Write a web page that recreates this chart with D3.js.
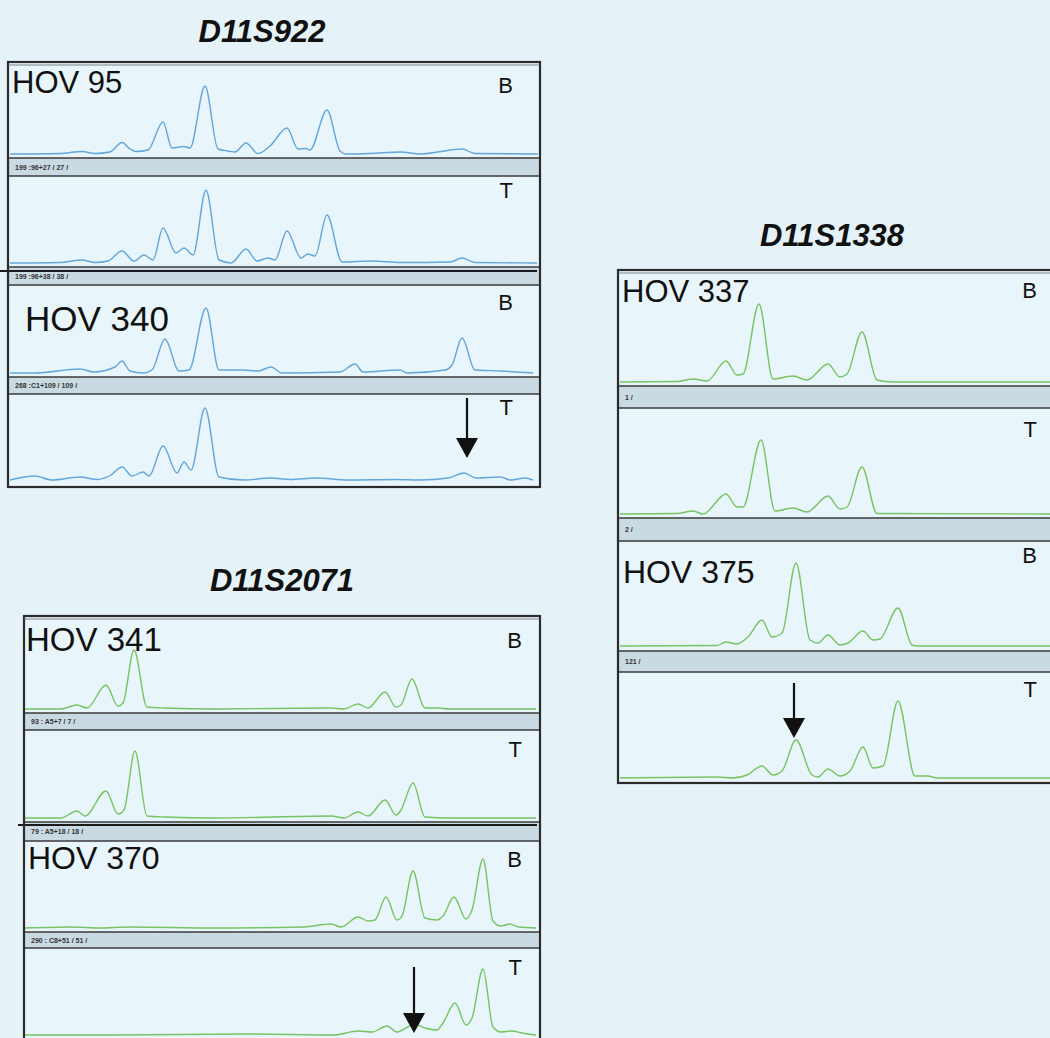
<!DOCTYPE html>
<html>
<head>
<meta charset="utf-8">
<script src="https://cdn.jsdelivr.net/npm/d3@7"></script>
<style>
  html, body { margin: 0; padding: 0; background: #e5f3f8; }
  svg { display: block; font-family: "Liberation Sans", Arial, sans-serif; }
</style>
</head>
<body>
<svg id="fig" width="1050" height="1038"></svg>
<script>
// ---------------------------------------------------------------
// Electropherogram traces: [scan position, signal] pairs per lane.
// B = blood (constitutional) DNA, T = tumour DNA.
// ---------------------------------------------------------------

// Marker D11S922
const hov95B = [[2,0],[52,0.5],[74,2.5],[87,0.5],[102,2],[114,11.5],[122,5],[128,2.5],[140,4],[155,32],[164,6],[176,7.5],[182,6],[197,68],[210,5],[220,3],[227,2],[238,11],[250,0.5],[262,8],[279,26],[290,5],[298,5.5],[302,4],[319,44],[332,3],[338,0],[362,0.5],[393,2],[412,0],[454,5],[467,0.5],[530,0]];
const hov95T = [[2,0],[52,0.5],[74,3],[87,0.5],[100,2],[114,12],[126,2],[136,8],[145,3],[155,35],[168,10],[176,15],[185,8],[198,73],[211,3],[223,0],[238,14],[249,2],[260,5],[267,3],[279,32],[293,5],[300,9],[307,7],[319,48],[334,1],[364,2],[392,0.5],[442,1],[454,5],[467,0.5],[529,0]];
const hov340B = [[2,0],[27,0],[72,4],[86,1],[107,6],[114,12],[122,2],[135,0],[144,3],[157,34],[171,2],[181,3],[198,65],[211,3],[235,3],[250,2],[263,6],[274,0],[332,1],[347,9],[355,1],[392,3],[399,0],[437,3],[444,8],[454,35],[467,3],[492,2],[525,0]];
const hov340T = [[2,0],[27,4],[44,0],[72,3],[89,0.5],[103,5],[114,13],[124,4],[135,8],[141,4],[155,34],[169,7],[176,18],[183,10],[197,72],[211,3],[235,0],[263,2],[282,0.5],[308,2],[340,0],[388,0.5],[412,0],[440,2],[456,7],[468,2],[492,3],[503,0],[517,2],[525,0]];

// Marker D11S1338
const hov337B = [[2,0],[59,0.5],[75,3],[89,1],[108,21],[119,7],[125,8],[141,78],[155,3],[175,6],[189,2],[210,18],[222,5],[229,8],[244,50],[259,2],[275,0],[440,0]];
const hov337T = [[2,0],[59,0.5],[75,3],[85,0],[108,20],[119,7],[125,7],[143,74],[157,3],[175,6],[189,2],[210,18],[222,5],[229,7],[244,47],[259,0.5],[440,0]];
const hov375B = [[2,0],[99,0.5],[108,4],[119,2],[130,9],[144,26],[154,9],[164,13],[178,83],[192,6],[200,3],[210,11],[222,1],[230,3],[245,15],[255,6],[262,7],[280,38],[294,1],[299,0],[440,0]];
const hov375T = [[2,0],[99,1],[115,0],[129,3],[144,12],[155,3],[164,7],[178,38],[194,3],[200,1],[210,9],[222,2],[232,7],[245,31],[255,10],[265,12],[280,77],[297,2],[310,2],[319,0],[440,0]];

// Marker D11S2071
const hov341B = [[1,0],[37,0],[53,4],[63,1],[82,24],[94,3],[99,6],[110,59],[123,2],[140,1],[191,0],[307,1],[320,0],[334,5],[344,1],[361,17],[372,2],[377,4],[388,30],[401,1],[414,1],[426,0],[512,0]];
const hov341T = [[1,0],[37,0],[53,7],[61,2],[82,27],[94,4],[100,8],[111,67],[123,2],[140,1],[191,0],[307,2],[320,0],[334,6],[344,2],[361,18],[372,3],[377,8],[389,35],[401,1],[426,0],[512,0]];
const hov370B = [[1,0],[47,1],[76,0],[105,1],[191,0],[280,1],[307,4],[317,1],[334,11],[344,7],[351,8],[362,31],[373,8],[378,12],[389,57],[401,10],[413,8],[419,12],[430,31],[442,9],[448,18],[459,69],[469,7],[477,2],[486,4],[495,1],[512,0]];
const hov370T = [[1,0],[88,0],[225,1],[310,0],[334,4],[348,3],[363,9],[373,3],[382,7],[390,11],[401,7],[413,5],[419,12],[431,32],[442,10],[448,17],[459,66],[469,8],[477,3],[488,4],[498,2],[512,0]];

// Marker names, sample names and the run-info strings printed under each lane
const markerNames = ["D11S922", "D11S1338", "D11S2071"];
const sampleNames = [["HOV 95", "HOV 340"], ["HOV 337", "HOV 375"], ["HOV 341", "HOV 370"]];
const runInfo = [
  ["199 :96+27 / 27 /", "199 :96+38 / 38 /", "268 :C1+109 / 109 /"],
  ["1 /", "2 /", "121 /"],
  ["93 : A5+7 / 7 /", "79 : A5+18 / 18 /", "290 : C8+51 / 51 /"]
];
// Allelic loss markers: [scan position, arrow top signal, arrow tip signal]
const lossArrows = [[459, 82, 22], [176, 95, 40], [390, 68, 2]];

// ---------------------------------------------------------------
const BLUE = "#62a6da", GREEN = "#76c462";
const BORDER = "#2b2b2b", STRIP = "#c9dae3";

const panels = [
  {
    title: markerNames[0], titleX: 262, titleY: 42, color: BLUE,
    box: {x0: 8, x1: 540, y0: 62, y1: 487}, scanMax: 532, laneRight: 513,
    samples: [
      {name: sampleNames[0][0], nx: 12, ny: 93, fs: 31,
       lanes: [{lane: "B", base: 154, ly: 93, data: hov95B}, {lane: "T", base: 263, ly: 198, data: hov95T}]},
      {name: sampleNames[0][1], nx: 25, ny: 331, fs: 35,
       lanes: [{lane: "B", base: 373, ly: 310, data: hov340B}, {lane: "T", base: 480, ly: 415, data: hov340T, arrow: lossArrows[0]}]}
    ],
    strips: [{y0: 158, y1: 176, text: runInfo[0][0]}, {y0: 267, y1: 285, text: runInfo[0][1], rule: {y: 271, x0: 0, x1: 537}}, {y0: 377, y1: 394, text: runInfo[0][2]}]
  },
  {
    title: markerNames[1], titleX: 832, titleY: 246, color: GREEN,
    box: {x0: 618, x1: 1060, y0: 270, y1: 783}, scanMax: 440, laneRight: 1037,
    samples: [
      {name: sampleNames[1][0], nx: 622, ny: 302, fs: 31,
       lanes: [{lane: "B", base: 382, ly: 298, data: hov337B}, {lane: "T", base: 514, ly: 437, data: hov337T}]},
      {name: sampleNames[1][1], nx: 623, ny: 583, fs: 32,
       lanes: [{lane: "B", base: 646, ly: 563, data: hov375B}, {lane: "T", base: 778, ly: 697, data: hov375T, arrow: lossArrows[1]}]}
    ],
    strips: [{y0: 386, y1: 408, text: runInfo[1][0]}, {y0: 518, y1: 541, text: runInfo[1][1]}, {y0: 651, y1: 672, text: runInfo[1][2]}]
  },
  {
    title: markerNames[2], titleX: 282, titleY: 591, color: GREEN,
    box: {x0: 24, x1: 540, y0: 616, y1: 1044}, scanMax: 516, laneRight: 522,
    samples: [
      {name: sampleNames[2][0], nx: 26, ny: 651, fs: 33,
       lanes: [{lane: "B", base: 709, ly: 648, data: hov341B}, {lane: "T", base: 818, ly: 757, data: hov341T}]},
      {name: sampleNames[2][1], nx: 28, ny: 869, fs: 32,
       lanes: [{lane: "B", base: 928, ly: 867, data: hov370B}, {lane: "T", base: 1035, ly: 975, data: hov370T, arrow: lossArrows[2]}]}
    ],
    strips: [{y0: 713, y1: 730, text: runInfo[2][0]}, {y0: 822, y1: 841, text: runInfo[2][1], rule: {y: 825, x0: 18, x1: 537}}, {y0: 932, y1: 948, text: runInfo[2][2]}]
  }
];

const svg = d3.select("#fig");
svg.append("rect").attr("width", 1050).attr("height", 1038).attr("fill", "#e5f3f8");

panels.forEach((p, pi) => {
  const g = svg.append("g");
  const b = p.box;

  // marker title
  g.append("text")
    .attr("x", p.titleX).attr("y", p.titleY)
    .attr("text-anchor", "middle")
    .attr("font-size", 31).attr("font-weight", "bold").attr("font-style", "italic")
    .attr("fill", "#111")
    .text(p.title);

  // panel background
  g.append("rect").attr("x", b.x0).attr("y", b.y0)
    .attr("width", b.x1 - b.x0).attr("height", b.y1 - b.y0)
    .attr("fill", "#e8f5fa");

  // grey run-info strips between lanes
  p.strips.forEach(s => {
    g.append("rect").attr("x", b.x0).attr("y", s.y0)
      .attr("width", b.x1 - b.x0).attr("height", s.y1 - s.y0)
      .attr("fill", STRIP);
    [s.y0, s.y1].forEach(y => g.append("line")
      .attr("x1", b.x0).attr("x2", b.x1).attr("y1", y).attr("y2", y)
      .attr("stroke", "#3a3a3a").attr("stroke-width", 1.6));
    g.append("text").attr("x", b.x0 + 7).attr("y", (s.y0 + s.y1) / 2 + 2.5)
      .attr("font-size", 7).attr("font-weight", "bold").attr("fill", "#333").text(s.text);
  });

  const clipId = "clip" + pi;
  svg.append("clipPath").attr("id", clipId)
    .append("rect").attr("x", b.x0).attr("y", b.y0)
    .attr("width", b.x1 - b.x0).attr("height", b.y1 - b.y0);

  const x = d3.scaleLinear().domain([0, p.scanMax]).range([b.x0, b.x0 + p.scanMax]);

  p.samples.forEach(smp => {
    smp.lanes.forEach(ln => {
      const y = d3.scaleLinear().domain([0, 100]).range([ln.base, ln.base - 100]);
      const line = d3.line().x(d => x(d[0])).y(d => y(d[1])).curve(d3.curveMonotoneX);
      g.append("path").attr("d", line(ln.data))
        .attr("clip-path", `url(#${clipId})`)
        .attr("fill", "none").attr("stroke", p.color)
        .attr("stroke-width", 1.4).attr("stroke-linejoin", "round");

      g.append("text").attr("x", p.laneRight).attr("y", ln.ly)
        .attr("text-anchor", "end").attr("font-size", 22).attr("fill", "#111")
        .text(ln.lane);

      if (ln.arrow) {
        const ax = x(ln.arrow[0]), top = y(ln.arrow[1]), tip = y(ln.arrow[2]);
        const headL = 20, headW = 11;
        g.append("line").attr("x1", ax).attr("x2", ax)
          .attr("y1", top).attr("y2", tip - headL + 2)
          .attr("stroke", "#111").attr("stroke-width", 2.2);
        g.append("path")
          .attr("d", `M${ax - headW},${tip - headL} L${ax + headW},${tip - headL} L${ax},${tip} Z`)
          .attr("fill", "#111");
      }
    });

    g.append("text").attr("x", smp.nx).attr("y", smp.ny)
      .attr("font-size", smp.fs).attr("fill", "#111")
      .text(smp.name);
  });

  // long separator rules between stacked samples
  p.strips.filter(s => s.rule).forEach(s => {
    g.append("line").attr("x1", s.rule.x0).attr("x2", s.rule.x1)
      .attr("y1", s.rule.y).attr("y2", s.rule.y)
      .attr("stroke", "#1a1a1a").attr("stroke-width", 2.2);
  });

  // panel frame
  g.append("rect").attr("x", b.x0).attr("y", b.y0)
    .attr("width", b.x1 - b.x0).attr("height", b.y1 - b.y0)
    .attr("fill", "none").attr("stroke", BORDER).attr("stroke-width", 2.2);
  g.append("line").attr("x1", b.x0).attr("x2", b.x1)
    .attr("y1", b.y0 + 3).attr("y2", b.y0 + 3)
    .attr("stroke", "#666").attr("stroke-width", 0.8);
});
</script>
</body>
</html>
